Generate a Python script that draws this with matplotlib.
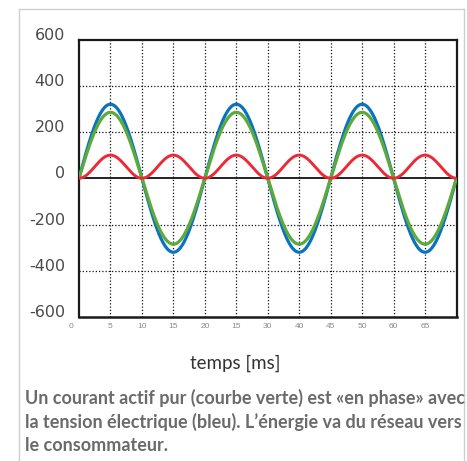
import numpy as np
import matplotlib
matplotlib.use("Agg")
import matplotlib.pyplot as plt
from matplotlib.transforms import ScaledTranslation
from matplotlib.lines import Line2D

# ---- data ----
period_ms = 20.0            # period of voltage / current
voltage_amplitude = 320     # blue curve peak
current_amplitude = 285     # green curve peak
power_peak = 100            # red curve peak (sin^2 shape)
t_end = 60
x_tick_pos = [0, 5, 10, 15, 20, 25, 30, 35, 40, 45, 50, 55]
x_tick_labels = ["0", "5", "10", "15", "20", "15", "30", "40", "45", "50", "60", "65"]
y_ticks = [-600, -400, -200, 0, 200, 400, 600]
y_tick_labels = ["-600", "-400", "-200", "0", "200", "400", "600"]
x_label = "temps [ms]"
caption_lines = [
    "Un courant actif pur (courbe verte) est «en phase» avec",
    "la tension électrique (bleu). L’énergie va du réseau vers",
    "le consommateur.",
]

W, H = 467, 461
fig = plt.figure(figsize=(W / 100, H / 100), dpi=100)
fig.patch.set_facecolor("white")

def fx(px):
    return px / W

def fy(py):
    return 1 - py / H

# outer light frame
frame_col = "#cfcfcf"
fig.add_artist(Line2D([fx(19), fx(19)], [fy(9.5), 0], color=frame_col, lw=1.0, transform=fig.transFigure))
fig.add_artist(Line2D([fx(463.5), fx(463.5)], [fy(9.5), 0], color=frame_col, lw=1.0, transform=fig.transFigure))
fig.add_artist(Line2D([fx(19), fx(463.5)], [fy(9.5), fy(9.5)], color=frame_col, lw=1.0, transform=fig.transFigure))

ax_l, ax_r, ax_t, ax_b = 79, 456.5, 39.5, 317
ax = fig.add_axes([fx(ax_l), fy(ax_b), fx(ax_r - ax_l), (ax_b - ax_t) / H])
ax.set_xlim(0, t_end)
ax.set_ylim(-600, 600)

t = np.linspace(0, t_end, 1201)
w = 2 * np.pi / period_ms
voltage = voltage_amplitude * np.sin(w * t)
current = current_amplitude * np.sin(w * t)
power = power_peak * np.sin(w * t) ** 2

# grid
for xv in range(5, t_end, 5):
    ax.axvline(xv, color="#111111", lw=0.9, ls=(0, (1, 1.6)), zorder=1)
for yv in [-400, -200, 200, 400]:
    ax.axhline(yv, color="#111111", lw=0.9, ls=(0, (1, 1.6)), zorder=1)
ax.axhline(0, color="#222222", lw=1.4, zorder=2)

ax.plot(t, voltage, color="#0a72c2", lw=2.3, zorder=3, solid_capstyle="butt")
ax.plot(t, current, color="#5caa3a", lw=2.3, zorder=4, solid_capstyle="butt")
ax.plot(t, power, color="#ec2a36", lw=2.1, zorder=5, solid_capstyle="butt")

for s in ax.spines.values():
    s.set_color("#1a1a1a")
    s.set_linewidth(1.6)
ax.spines["bottom"].set_linewidth(1.8)

ax.set_xticks(x_tick_pos)
ax.set_xticklabels(x_tick_labels, fontsize=6, color="#8a8a8a", family="Liberation Sans")
ax.set_yticks(y_ticks)
ax.set_yticklabels(y_tick_labels, fontsize=11.5, color="#4a4a4a", family="DejaVu Sans")
ax.tick_params(axis="both", length=0)
ax.tick_params(axis="x", pad=4)
ax.tick_params(axis="y", pad=10)

# shift y labels up a little and the "0" x label left
for lab in ax.get_yticklabels():
    lab.set_transform(lab.get_transform() + ScaledTranslation(0, 6 / 100, fig.dpi_scale_trans))
xl = ax.get_xticklabels()
xl[0].set_transform(xl[0].get_transform() + ScaledTranslation(-8 / 100, 0, fig.dpi_scale_trans))

xlab = fig.text(fx(235), fy(363), x_label, ha="center", va="center", fontsize=11, color="#333333", family="Lato")

caption_y = [398, 421.5, 445]
caps = []
for line, yy in zip(caption_lines, caption_y):
    caps.append(fig.text(fx(25), fy(yy), line, ha="left", va="center", fontsize=10.3, color="#6a6a6a",
                         family="Lato", fontweight="bold"))

# fit text widths to the reference
fig.canvas.draw()
r = fig.canvas.get_renderer()
def fit(txt, target_px):
    wpx = txt.get_window_extent(r).width
    txt.set_fontsize(txt.get_fontsize() * target_px / wpx)
fit(xlab, 90)
wcap = caps[0].get_window_extent(r).width
for c in caps:
    c.set_fontsize(c.get_fontsize() * 437 / wcap)

fig.savefig("out.png", dpi=100)
